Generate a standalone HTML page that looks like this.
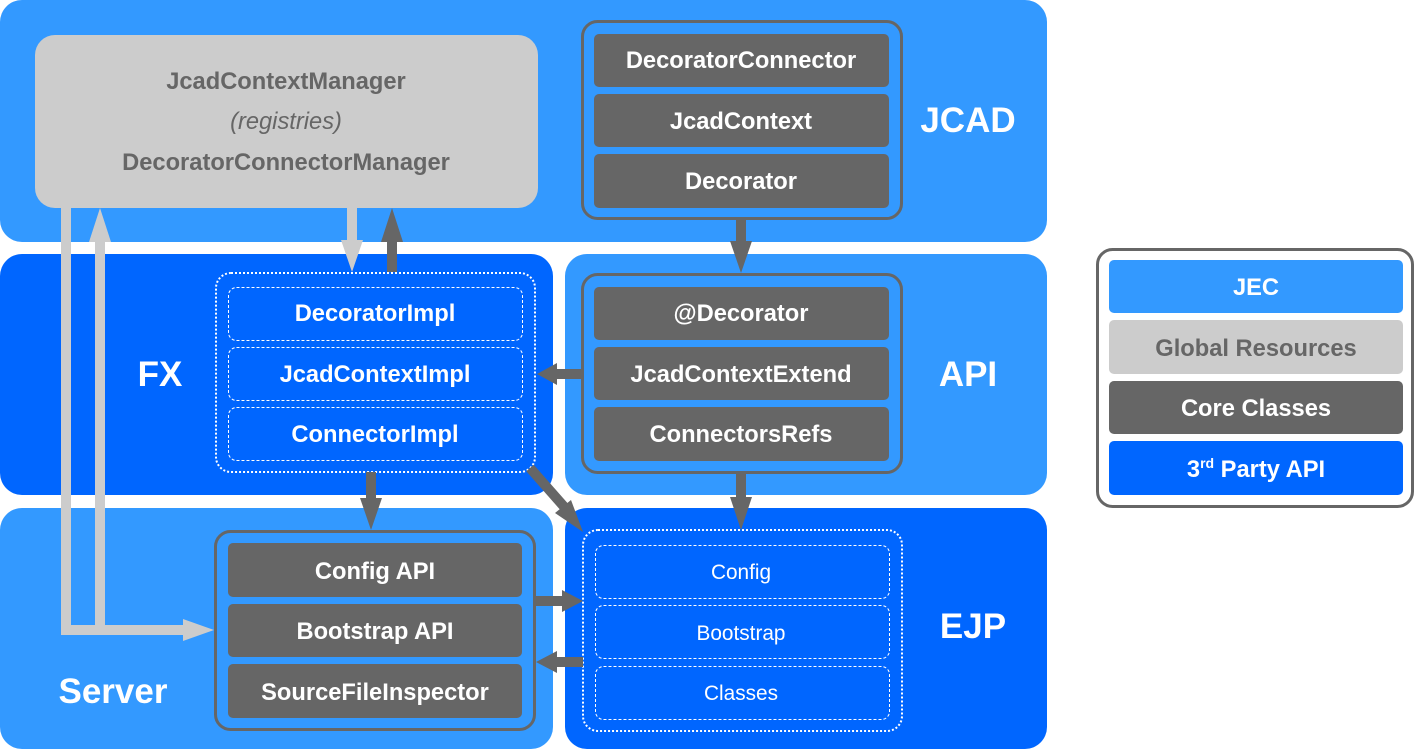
<!DOCTYPE html>
<html><head><meta charset="utf-8"><style>
html,body{margin:0;padding:0;background:#fff;}
svg{display:block;font-family:"Liberation Sans",Arial,sans-serif;}
.w{fill:#fff;font-weight:bold;font-size:23.7px;text-anchor:middle;}
.n{fill:#fff;font-size:20.8px;text-anchor:middle;}
.g{fill:#666;font-weight:bold;font-size:23.7px;text-anchor:middle;}
.L{fill:#fff;font-weight:bold;font-size:35px;text-anchor:middle;}
</style></head><body>
<svg width="1416" height="749" viewBox="0 0 1416 749">
<rect x="0" y="0" width="1047" height="242" rx="22" fill="#3399ff"/>
<rect x="0" y="254" width="553" height="241" rx="22" fill="#0066ff"/>
<rect x="565" y="254" width="482" height="241" rx="22" fill="#3399ff"/>
<rect x="0" y="508" width="553" height="241" rx="22" fill="#3399ff"/>
<rect x="565" y="508" width="482" height="241" rx="22" fill="#0066ff"/>

<rect x="35" y="35" width="503" height="173" rx="20" fill="#cccccc"/>
<text class="g" x="286" y="89">JcadContextManager</text>
<text x="286" y="129" style="fill:#666;font-size:23.7px;font-style:italic;text-anchor:middle">(registries)</text>
<text class="g" x="286" y="170">DecoratorConnectorManager</text>

<rect x="582.5" y="21.5" width="319" height="197" rx="15" fill="none" stroke="#666" stroke-width="3"/>
<rect x="594" y="34" width="295" height="53" rx="5" fill="#666"/>
<rect x="594" y="94" width="295" height="53" rx="5" fill="#666"/>
<rect x="594" y="154" width="295" height="54" rx="5" fill="#666"/>
<text class="w" x="741" y="68">DecoratorConnector</text>
<text class="w" x="741" y="129">JcadContext</text>
<text class="w" x="741" y="189">Decorator</text>
<text class="L" x="968" y="132">JCAD</text>

<rect x="216" y="273" width="319" height="199" rx="15" fill="none" stroke="#fff" stroke-width="2" stroke-dasharray="2,2"/>
<rect x="228.5" y="287.5" width="294" height="53" rx="8" fill="none" stroke="#fff" stroke-width="1" stroke-dasharray="3,2"/>
<rect x="228.5" y="347.5" width="294" height="53" rx="8" fill="none" stroke="#fff" stroke-width="1" stroke-dasharray="3,2"/>
<rect x="228.5" y="407.5" width="294" height="53" rx="8" fill="none" stroke="#fff" stroke-width="1" stroke-dasharray="3,2"/>
<text class="w" x="375" y="321">DecoratorImpl</text>
<text class="w" x="375" y="382">JcadContextImpl</text>
<text class="w" x="375" y="442">ConnectorImpl</text>
<text class="L" x="160" y="386">FX</text>

<rect x="582.5" y="274.5" width="319" height="198" rx="15" fill="none" stroke="#666" stroke-width="3"/>
<rect x="594" y="287" width="295" height="53" rx="5" fill="#666"/>
<rect x="594" y="347" width="295" height="53" rx="5" fill="#666"/>
<rect x="594" y="407" width="295" height="54" rx="5" fill="#666"/>
<text class="w" x="741" y="321">@Decorator</text>
<text class="w" x="741" y="382">JcadContextExtend</text>
<text class="w" x="741" y="442">ConnectorsRefs</text>
<text class="L" x="968" y="386">API</text>

<rect x="215.5" y="531.5" width="319" height="198" rx="15" fill="none" stroke="#666" stroke-width="3"/>
<rect x="228" y="543" width="294" height="54" rx="5" fill="#666"/>
<rect x="228" y="604" width="294" height="53" rx="5" fill="#666"/>
<rect x="228" y="664" width="294" height="54" rx="5" fill="#666"/>
<text class="w" x="375" y="579">Config API</text>
<text class="w" x="375" y="639">Bootstrap API</text>
<text class="w" x="375" y="700">SourceFileInspector</text>
<text class="L" x="113" y="703">Server</text>

<rect x="583" y="530" width="319" height="201" rx="15" fill="none" stroke="#fff" stroke-width="2" stroke-dasharray="2,2"/>
<rect x="595.5" y="545.5" width="294" height="53" rx="8" fill="none" stroke="#fff" stroke-width="1" stroke-dasharray="3,2"/>
<rect x="595.5" y="605.5" width="294" height="53" rx="8" fill="none" stroke="#fff" stroke-width="1" stroke-dasharray="3,2"/>
<rect x="595.5" y="666.5" width="294" height="53" rx="8" fill="none" stroke="#fff" stroke-width="1" stroke-dasharray="3,2"/>
<text class="n" x="741" y="579">Config</text>
<text class="n" x="741" y="640">Bootstrap</text>
<text class="n" x="741" y="700">Classes</text>
<text class="L" x="973" y="638">EJP</text>

<polyline points="66,208 66,630 185,630" fill="none" stroke="#ccc" stroke-width="10"/>
<polygon points="183,619 214,630 183,641" fill="#ccc"/>
<line x1="100" y1="630" x2="100" y2="240" stroke="#ccc" stroke-width="10"/>
<polygon points="89,242 100,208 111,242" fill="#ccc"/>
<line x1="352" y1="208" x2="352" y2="242" stroke="#ccc" stroke-width="10"/>
<polygon points="341,240 352,272 363,240" fill="#ccc"/>

<g fill="#666">
<rect x="387" y="240" width="10" height="32"/>
<polygon points="381,242 392,208 403,242"/>
<rect x="736" y="219" width="10" height="24"/>
<polygon points="730,241 741,273 752,241"/>
<rect x="736" y="473" width="10" height="26"/>
<polygon points="730,497 741,530 752,497"/>
<rect x="366" y="472" width="10" height="28"/>
<polygon points="360,498 371,530 382,498"/>
<rect x="555" y="369" width="28" height="10"/>
<polygon points="557,363 537,374 557,385"/>
<rect x="535" y="596" width="30" height="10"/>
<polygon points="562,590 583,601 562,612"/>
<rect x="555" y="657" width="28" height="10"/>
<polygon points="557,651 536,662 557,673"/>
<line x1="530" y1="468" x2="567" y2="510" stroke="#666" stroke-width="10"/>
<polygon points="555,513 571,500 583,532"/>
</g>

<rect x="1097.5" y="249.5" width="315" height="257" rx="15" fill="#fff" stroke="#666" stroke-width="3"/>
<rect x="1109" y="260" width="294" height="53" rx="5" fill="#3399ff"/>
<rect x="1109" y="320" width="294" height="54" rx="5" fill="#cccccc"/>
<rect x="1109" y="381" width="294" height="53" rx="5" fill="#666"/>
<rect x="1109" y="441" width="294" height="54" rx="5" fill="#0066ff"/>
<text class="w" x="1256" y="295">JEC</text>
<text class="g" x="1256" y="356">Global Resources</text>
<text class="w" x="1256" y="416">Core Classes</text>
<text class="w" x="1256" y="477">3<tspan font-size="14" dy="-9">rd</tspan><tspan dy="9"> Party API</tspan></text>
</svg>
</body></html>
